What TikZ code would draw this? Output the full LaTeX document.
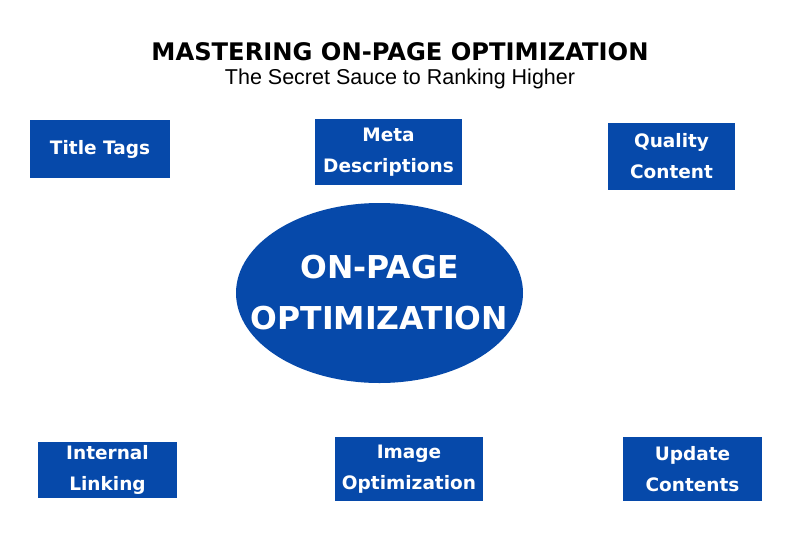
\documentclass[tikz,border=0pt]{standalone}
\usepackage{fontspec}
\setmainfont{Liberation Sans}
\newfontfamily\boldsans{DejaVu Sans}[BoldFont={DejaVu Sans Bold}]
\definecolor{seoblue}{RGB}{6,73,170}
\tikzset{
  box/.style={fill=seoblue, draw=none, text=white, align=center, inner sep=0pt,
    font=\boldsans\bfseries\fontsize{18.5}{31}\selectfont},
  hubtext/.style={text=white, align=center, inner sep=0pt,
    font=\boldsans\bfseries\fontsize{31.5}{51}\selectfont},
  heading/.style={anchor=base, inner sep=0pt, font=\boldsans\bfseries\fontsize{24.2}{26}\selectfont},
  subheading/.style={anchor=base, inner sep=0pt, font=\fontsize{21.5}{24}\selectfont}
}
\begin{document}
\begin{tikzpicture}[x=1pt,y=-1pt]
\useasboundingbox[fill=white] (0,0) rectangle (800,533);
\node[heading] (title) at (400,60) {MASTERING ON-PAGE OPTIMIZATION};
\node[subheading] (subtitle) at (400,84) {The Secret Sauce to Ranking Higher};
\node[box, minimum width=140pt, minimum height=58pt] (tt) at (100,149) {Title Tags};
\node[box, minimum width=147pt, minimum height=66pt] (md) at (388.5,152) {Meta\\Descriptions};
\node[box, minimum width=127pt, minimum height=67pt] (qc) at (671.5,156.5) {Quality\\Content};
\fill[seoblue] (379.5,293) ellipse[x radius=143.5, y radius=90];
\node[hubtext] (hub) at (379.5,293) {ON-PAGE\\OPTIMIZATION};
\node[box, minimum width=139pt, minimum height=56pt] (il) at (107.5,470) {Internal\\Linking};
\node[box, minimum width=148pt, minimum height=64pt] (io) at (409,469) {Image\\Optimization};
\node[box, minimum width=139pt, minimum height=64pt] (uc) at (692.5,469) {Update\\Contents};
\end{tikzpicture}
\end{document}
